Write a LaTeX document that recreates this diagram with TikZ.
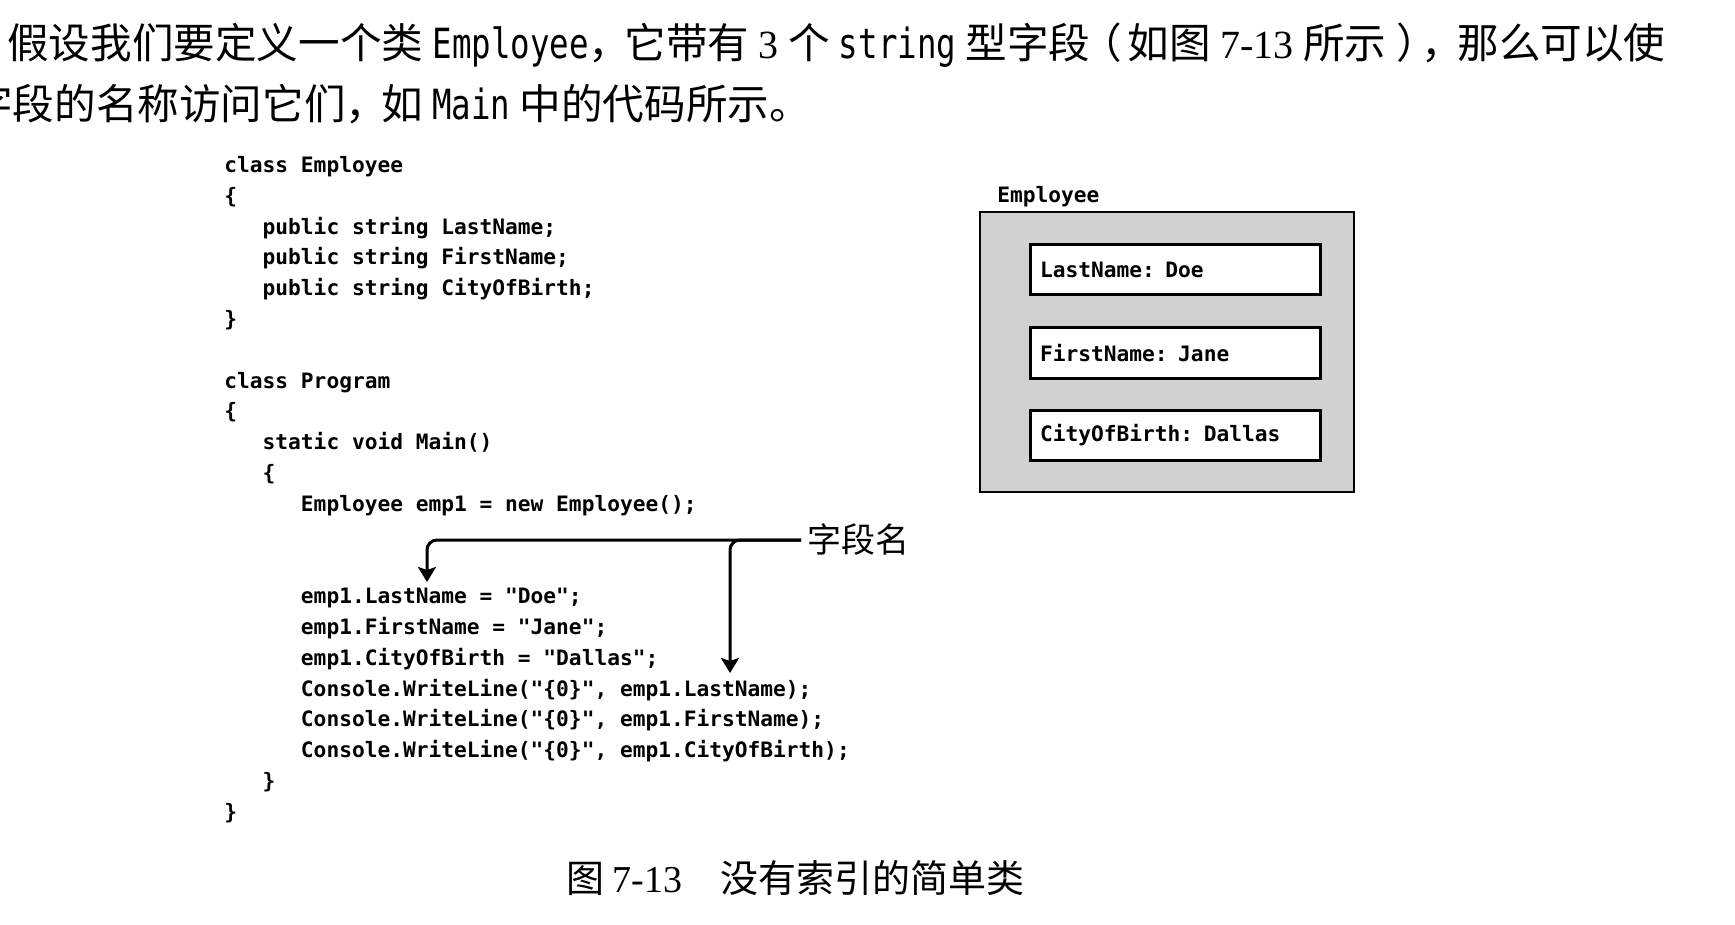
\documentclass[tikz,border=0pt]{standalone}
\usepackage{fontspec}
\usepackage{tikz}
\usetikzlibrary{arrows.meta,positioning}
\newfontfamily\cjk{Noto Sans CJK SC}
\newfontfamily\codefont{DejaVu Sans Mono}
\newfontfamily\latinfont[FakeStretch=0.78]{DejaVu Sans Mono}
\newfontfamily\numfont{Liberation Serif}

\tikzset{
  code/.style={inner sep=0pt, align=left, font=\codefont\bfseries\fontsize{10.6}{15.4}\selectfont},
  objbox/.style={draw, line width=1.4pt, fill=black!18, minimum width=187pt, minimum height=140pt, inner sep=0pt},
  fieldbox/.style={draw, line width=1.5pt, fill=white, minimum height=25pt, text width=135pt, inner xsep=5pt, align=left, font=\codefont\bfseries\fontsize{10.6}{12}\selectfont},
  fieldarrow/.style={-{Stealth[length=7.5pt,width=9pt,inset=1.5pt]}, line width=1.5pt, rounded corners=5pt},
  bodytext/.style={inner sep=0pt, anchor=base west, font=\cjk\fontsize{20.8}{25}\selectfont}
}

\begin{document}
\begin{tikzpicture}[x=0.5pt, y=-0.5pt]

    %% Background
    \useasboundingbox (0,0) rectangle (1735,925);

    \node[bodytext] (para1) at (7,59) {假设我们要定义一个类 {\latinfont Employee}，\kern-3pt 它带有 {\numfont\fontsize{20}{24}\selectfont 3} 个 {\latinfont string} 型字段\kern-5pt（\kern3pt 如图 {\numfont\fontsize{20}{24}\selectfont 7-13} 所示\kern5pt）\kern-8pt，\kern-3pt 那么可以使};
    \node[bodytext] (para2) at (-29,120) {字段的名称访问它们，\kern-3pt 如 {\latinfont Main} 中的代码所示。};

    \node[code, anchor=north west] (prog) at (224,156) {class Employee\\
\{\\
\ \ \ public string LastName;\\
\ \ \ public string FirstName;\\
\ \ \ public string CityOfBirth;\\
\}\\
\mbox{}\\
class Program\\
\{\\
\ \ \ static void Main()\\
\ \ \ \{\\
\ \ \ \ \ \ Employee emp1 = new Employee();\\
\mbox{}\\
\mbox{}\\
\ \ \ \ \ \ emp1.LastName = "Doe";\\
\ \ \ \ \ \ emp1.FirstName = "Jane";\\
\ \ \ \ \ \ emp1.CityOfBirth = "Dallas";\\
\ \ \ \ \ \ Console.WriteLine("\{0\}", emp1.LastName);\\
\ \ \ \ \ \ Console.WriteLine("\{0\}", emp1.FirstName);\\
\ \ \ \ \ \ Console.WriteLine("\{0\}", emp1.CityOfBirth);\\
\ \ \ \}\\
\}};

    %% object
    \node[objbox] (obj) at (1167,352) {};
    \node[code, anchor=base west] (objname) at (997,203) {Employee};
    \foreach \f/\y in {LastName: Doe/270, FirstName: Jane/353, CityOfBirth: Dallas/435}
    {
    \node[fieldbox] (field\y) at (1175,\y) {\f};
    }

    %% field names
    \node[anchor=west, inner xsep=3pt, font=\cjk\fontsize{17}{20}\selectfont] (fname) at (801,540) {字段名};
    \coordinate (tipA) at (427,582);
    \coordinate (tipB) at (730,673);
    \draw[fieldarrow] (fname.west) -| (tipA);
    \draw[fieldarrow] (fname.west) -| (tipB);

    \node[inner sep=0pt, anchor=base west, font=\cjk\fontsize{19}{23}\selectfont] (caption) at (566,892) {图 {\numfont 7-13}\quad 没有索引的简单类};

\end{tikzpicture}
\end{document}
